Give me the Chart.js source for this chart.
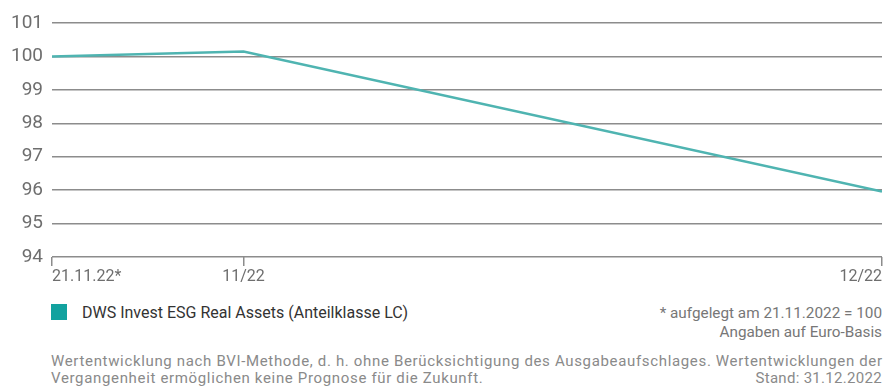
<!DOCTYPE html>
<html>
<head>
<meta charset="utf-8">
<script src="https://cdn.jsdelivr.net/npm/chart.js@4"></script>
<style>
  body { margin: 0; background: #fff; font-family: Roboto, "Liberation Sans", sans-serif; }
  #wrap { position: relative; width: 891px; height: 290px; }
  .legend { position: absolute; left: 51px; top: 303px; font-size: 16px; color: #333; line-height: 20px; }
  .legend span.box { display: inline-block; width: 16px; height: 16px; background: #12a29f; vertical-align: -2px; margin-right: 15px; }
  .notes { position: absolute; right: 9px; top: 304px; text-align: right; font-size: 15.3px; color: #777; line-height: 19px; }
  .footer { position: absolute; left: 51px; right: 9px; top: 353px; font-size: 15px; letter-spacing: 0.66px; color: #8a8a8a; line-height: 17px; white-space: nowrap; }
  .footer .stand { float: right; letter-spacing: 0.3px; }
</style>
</head>
<body>
<div id="wrap"><canvas id="perfChart" width="891" height="290"></canvas></div>
<div class="legend"><span class="box"></span>DWS Invest ESG Real Assets (Anteilklasse LC)</div>
<div class="notes">* aufgelegt am 21.11.2022 = 100<br>Angaben auf Euro-Basis</div>
<div class="footer">Wertentwicklung nach BVI-Methode, d. h. ohne Berücksichtigung des Ausgabeaufschlages. Wertentwicklungen der<br>Vergangenheit ermöglichen keine Prognose für die Zukunft.<span class="stand">Stand: 31.12.2022</span></div>
<script>
// days since launch (21.11.2022) for each point; last value is 30.12.2022
const dayOffsets = [0, 9, 39];
const tickLabels = ["21.11.22*", "11/22", "12/22"];
const fundValues = [100, 100.15, 95.96];

const gridGray = "#8c8c8c";
const textGray = "#6e6e6e";

const xLabels = {
    id: "xLabels",
    afterDraw(chart) {
        const ctx = chart.ctx;
        const x = chart.scales.x;
        ctx.save();
        ctx.font = "16px Roboto, sans-serif";
        ctx.fillStyle = textGray;
        ctx.textBaseline = "middle";
        dayOffsets.forEach((d, i) => {
            const px = x.getPixelForValue(d);
            ctx.textAlign = i === 0 ? "left" : (i === dayOffsets.length - 1 ? "right" : "center");
            ctx.fillText(tickLabels[i], px, 277);
        });
        ctx.restore();
    }
};

const ctx = document.getElementById("perfChart").getContext("2d");
new Chart(ctx, {
    type: "line",
    data: {
        datasets: [{
            label: "DWS Invest ESG Real Assets (Anteilklasse LC)",
            data: dayOffsets.map((d, i) => ({ x: d, y: fundValues[i] })),
            borderColor: "#4fb4b1",
            borderWidth: 2.5,
            pointRadius: 0,
            fill: false,
            tension: 0
        }]
    },
    options: {
        responsive: false,
        animation: false,
        layout: { padding: { top: 23, right: 9, left: 0, bottom: 0 } },
        plugins: { legend: { display: false }, tooltip: { enabled: false } },
        scales: {
            x: {
                type: "linear",
                min: 0,
                max: 39,
                afterBuildTicks: axis => { axis.ticks = dayOffsets.map(v => ({ value: v })); },
                afterFit: axis => { axis.height = 33; },
                ticks: { display: false },
                grid: { drawOnChartArea: false, drawTicks: true, tickLength: 9, color: gridGray, lineWidth: 1.5 },
                border: { display: false }
            },
            y: {
                min: 94,
                max: 101,
                afterFit: axis => { axis.width = 52; },
                ticks: { stepSize: 1, padding: 9, color: textGray, font: { size: 19, family: "Roboto" } },
                grid: { drawTicks: false, color: gridGray, lineWidth: 1.5 },
                border: { display: false }
            }
        }
    },
    plugins: [xLabels]
});
</script>
</body>
</html>
